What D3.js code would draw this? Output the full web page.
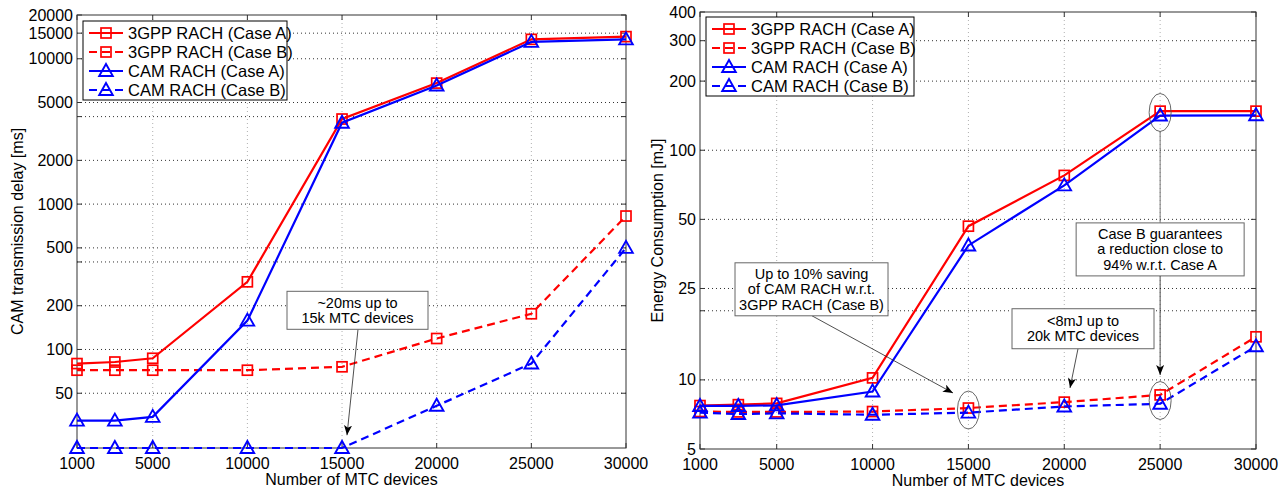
<!DOCTYPE html>
<html>
<head>
<meta charset="utf-8">
<script src="https://cdn.jsdelivr.net/npm/d3@7/dist/d3.min.js"></script>
<style>
	body { margin: 0; background: #fff; }
	text { font-family: "Liberation Sans", Arial, Helvetica, sans-serif; fill: #000; }
</style>
</head>
<body>
<svg id="chart" width="1285" height="488"></svg>
<script>
// x values shared by both panels
const devices = [1000, 3000, 5000, 10000, 15000, 20000, 25000, 30000];
const xTicks = [1000, 5000, 10000, 15000, 20000, 25000, 30000];
const seriesNames = ['3GPP RACH (Case A)', '3GPP RACH (Case B)', 'CAM RACH (Case A)', 'CAM RACH (Case B)'];

// left panel: CAM transmission delay [ms]
const delay3gppA = [80, 82, 87, 292, 3850, 6800, 13600, 14200];
const delay3gppB = [72, 72, 72, 72, 76, 119, 176, 828];
const delayCamA = [32.4, 32.4, 34.4, 158, 3630, 6550, 13060, 13600];
const delayCamB = [21, 21, 21, 21, 21, 41, 80, 500];
const delayTicks = [50, 100, 200, 500, 1000, 2000, 5000, 10000, 15000, 20000];
const delayGrid = [50, 100, 200, 400, 500, 1000, 2000, 4000, 5000, 10000, 15000];

// right panel: energy consumption [mJ]
const energy3gppA = [7.73, 7.8, 7.9, 10.2, 46.7, 77.7, 148, 148];
const energy3gppB = [7.28, 7.25, 7.25, 7.28, 7.54, 8.0, 8.6, 15.4];
const energyCamA = [7.7, 7.7, 7.75, 8.9, 38.5, 70.3, 141.6, 142];
const energyCamB = [7.2, 7.1, 7.15, 7.05, 7.2, 7.66, 7.87, 14.0];
const energyTicks = [5, 10, 25, 50, 100, 200, 300, 400];
const energyGrid = [10, 20, 25, 50, 100, 200, 300];

const RED = '#ff0000';
const BLUE = '#0000ff';
const TICK_LEN = 5;

const svg = d3.select('#chart');

svg.append('defs')
	.append('marker')
	.attr('id', 'arrow')
	.attr('viewBox', '0 0 10 8')
	.attr('refX', 10)
	.attr('refY', 4)
	.attr('markerWidth', 10)
	.attr('markerHeight', 8)
	.attr('markerUnits', 'userSpaceOnUse')
	.attr('orient', 'auto')
	.append('path')
	.attr('d', 'M0,0 L10,4 L0,8 L2.5,4 Z')
	.attr('fill', '#000');

function drawMarker(sel, type, color) {
	if (type === 'square') {
		sel.append('rect')
			.attr('x', -5).attr('y', -5)
			.attr('width', 10).attr('height', 10)
			.attr('fill', 'none')
			.attr('stroke', color)
			.attr('stroke-width', 1.7);
	} else {
		sel.append('path')
			.attr('d', 'M0,-7 L6.8,5 L-6.8,5 Z')
			.attr('fill', 'none')
			.attr('stroke', color)
			.attr('stroke-width', 1.9);
	}
}

function drawPanel(p) {
	const x = d3.scaleLinear()
		.domain([devices[0], devices[devices.length - 1]])
		.range([p.left, p.right]);
	const y = d3.scaleLog()
		.domain(p.yDomain)
		.range([p.bottom, p.top]);
	const g = svg.append('g');

	// Grid
	g.selectAll('.vgrid')
		.data(xTicks.slice(1, -1))
		.join('line')
		.attr('class', 'vgrid')
		.attr('x1', (d) => x(d)).attr('x2', (d) => x(d))
		.attr('y1', p.top).attr('y2', p.bottom)
		.attr('stroke', '#b0b0b0')
		.attr('stroke-dasharray', '1,3');

	g.selectAll('.hgrid')
		.data(p.yGrid)
		.join('line')
		.attr('class', 'hgrid')
		.attr('x1', p.left).attr('x2', p.right)
		.attr('y1', (d) => y(d)).attr('y2', (d) => y(d))
		.attr('stroke', '#333')
		.attr('stroke-dasharray', '1,3');

	// Ticks, inward on all four sides
	const yAll = Array.from(new Set(p.yTicks.concat(p.yGrid)));
	g.selectAll('.xtick')
		.data(xTicks.flatMap((d) => [[d, p.bottom, -TICK_LEN], [d, p.top, TICK_LEN]]))
		.join('line')
		.attr('class', 'xtick')
		.attr('x1', (d) => x(d[0])).attr('x2', (d) => x(d[0]))
		.attr('y1', (d) => d[1]).attr('y2', (d) => d[1] + d[2])
		.attr('stroke', '#333');
	g.selectAll('.ytick')
		.data(yAll.flatMap((d) => [[d, p.left, TICK_LEN], [d, p.right, -TICK_LEN]]))
		.join('line')
		.attr('class', 'ytick')
		.attr('y1', (d) => y(d[0])).attr('y2', (d) => y(d[0]))
		.attr('x1', (d) => d[1]).attr('x2', (d) => d[1] + d[2])
		.attr('stroke', '#333');

	// Axes box
	g.append('rect')
		.attr('x', p.left).attr('y', p.top)
		.attr('width', p.right - p.left).attr('height', p.bottom - p.top)
		.attr('fill', 'none')
		.attr('stroke', '#333');

	// Tick labels
	g.selectAll('.xlabel')
		.data(xTicks)
		.join('text')
		.attr('class', 'xlabel')
		.attr('x', (d) => x(d))
		.attr('y', p.bottom + 21)
		.attr('text-anchor', 'middle')
		.style('font-size', '16px')
		.text((d) => d);
	g.selectAll('.ylabel')
		.data(p.yTicks)
		.join('text')
		.attr('class', 'ylabel')
		.attr('x', p.left - 4)
		.attr('y', (d) => y(d))
		.attr('dy', '0.35em')
		.attr('text-anchor', 'end')
		.style('font-size', '16px')
		.text((d) => d);

	// Axis titles
	g.append('text')
		.attr('x', (p.left + p.right) / 2)
		.attr('y', p.bottom + 37)
		.attr('text-anchor', 'middle')
		.style('font-size', '16px')
		.text('Number of MTC devices');
	g.append('text')
		.attr('transform', `translate(${p.yTitleX},${(p.top + p.bottom) / 2}) rotate(-90)`)
		.attr('text-anchor', 'middle')
		.style('font-size', '16px')
		.text(p.yTitle);

	// Series
	const line = d3.line()
		.x((d, i) => x(devices[i]))
		.y((d) => y(d));

	p.series.forEach((s) => {
		g.append('path')
			.attr('d', line(s.values))
			.attr('fill', 'none')
			.attr('stroke', s.color)
			.attr('stroke-width', 2.2)
			.attr('stroke-dasharray', s.dashed ? '8,5' : null);

		g.selectAll(null)
			.data(s.values)
			.join('g')
			.attr('transform', (d, i) => `translate(${x(devices[i])},${y(d)})`)
			.each(function () { drawMarker(d3.select(this), s.marker, s.color); });
	});

	// Annotations
	p.notes.forEach((n) => {
		const cx = x(n.center[0]);
		const cy = y(n.center[1]);
		if (n.arrowTo) {
			g.append('line')
				.attr('x1', cx + n.arrowFrom[0]).attr('y1', cy + n.arrowFrom[1])
				.attr('x2', x(n.arrowTo[0])).attr('y2', y(n.arrowTo[1]))
				.attr('stroke', '#222')
				.attr('stroke-width', 0.8)
				.attr('marker-end', 'url(#arrow)');
		}
		if (n.lineTo) {
			g.append('line')
				.attr('x1', cx + n.lineFrom[0]).attr('y1', cy + n.lineFrom[1])
				.attr('x2', x(n.lineTo[0])).attr('y2', y(n.lineTo[1]))
				.attr('stroke', '#555')
				.attr('stroke-width', 0.8);
		}
		g.append('rect')
			.attr('x', cx - n.w / 2).attr('y', cy - n.h / 2)
			.attr('width', n.w).attr('height', n.h)
			.attr('fill', '#fff')
			.attr('stroke', '#666');
		g.selectAll(null)
			.data(n.lines)
			.join('text')
			.attr('x', cx)
			.attr('y', (d, i) => cy + (i - (n.lines.length - 1) / 2) * 15.5 + 5)
			.attr('text-anchor', 'middle')
			.style('font-size', '14.5px')
			.text((d) => d);
	});

	g.selectAll('.ring')
		.data(p.rings)
		.join('ellipse')
		.attr('class', 'ring')
		.attr('cx', (d) => x(d[0]))
		.attr('cy', (d) => y(d[1]))
		.attr('rx', 11)
		.attr('ry', 19)
		.attr('fill', 'none')
		.attr('stroke', '#555')
		.attr('stroke-width', 0.9);

	// Legend
	const lg = g.append('g').attr('transform', `translate(${p.legend[0]},${p.legend[1]})`);
	lg.append('rect')
		.attr('width', p.legend[2]).attr('height', 79)
		.attr('fill', '#fff')
		.attr('stroke', '#000');
	p.series.forEach((s, i) => {
		const row = lg.append('g').attr('transform', `translate(0,${12 + 19 * i})`);
		row.append('line')
			.attr('x1', 6).attr('x2', 40)
			.attr('stroke', s.color)
			.attr('stroke-width', 2.2)
			.attr('stroke-dasharray', s.dashed ? '8,5' : null);
		drawMarker(row.append('g').attr('transform', 'translate(23,0)'), s.marker, s.color);
		row.append('text')
			.attr('x', 45)
			.attr('dy', '0.35em')
			.style('font-size', '16.5px')
			.text(s.name);
	});
}

const styles = [
	{ color: RED, dashed: false, marker: 'square' },
	{ color: RED, dashed: true, marker: 'square' },
	{ color: BLUE, dashed: false, marker: 'triangle' },
	{ color: BLUE, dashed: true, marker: 'triangle' },
];

drawPanel({
	left: 77, right: 626, top: 15, bottom: 448,
	yDomain: [21, 20000],
	yTicks: delayTicks,
	yGrid: delayGrid,
	yTitle: 'CAM transmission delay [ms]',
	yTitleX: 23,
	legend: [83, 21, 204],
	series: [delay3gppA, delay3gppB, delayCamA, delayCamB].map((v, i) =>
		Object.assign({ name: seriesNames[i], values: v }, styles[i])),
	notes: [
		{ center: [15817, 186], w: 141, h: 38, lines: ['~20ms up to', '15k MTC devices'],
			arrowFrom: [0.5, 19], arrowTo: [15262, 25.7] },
	],
	rings: [],
});

drawPanel({
	left: 700, right: 1256, top: 12, bottom: 449,
	yDomain: [5, 400],
	yTicks: energyTicks,
	yGrid: energyGrid,
	yTitle: 'Energy Consumption [mJ]',
	yTitleX: 663,
	legend: [706, 17, 208],
	series: [energy3gppA, energy3gppB, energyCamA, energyCamB].map((v, i) =>
		Object.assign({ name: seriesNames[i], values: v }, styles[i])),
	notes: [
		{ center: [6816, 24.8], w: 153, h: 53,
			lines: ['Up to 10% saving', 'of CAM RACH w.r.t.', '3GPP RACH (Case B)'],
			arrowFrom: [0.5, 26.5], arrowTo: [14196, 8.77] },
		{ center: [20977, 16.7], w: 142, h: 40,
			lines: ['<8mJ up to', '20k MTC devices'],
			arrowFrom: [-5, 20], arrowTo: [20299, 9.22] },
		{ center: [25000, 37.0], w: 168, h: 53,
			lines: ['Case B guarantees', 'a reduction close to', '94% w.r.t. Case A'],
			arrowFrom: [0, 26.5], arrowTo: [25000, 10.5],
			lineFrom: [0, -26.5], lineTo: [25000, 121] },
	],
	rings: [[15000, 7.39], [25000, 8.13], [25000, 146]],
});
</script>
</body>
</html>
